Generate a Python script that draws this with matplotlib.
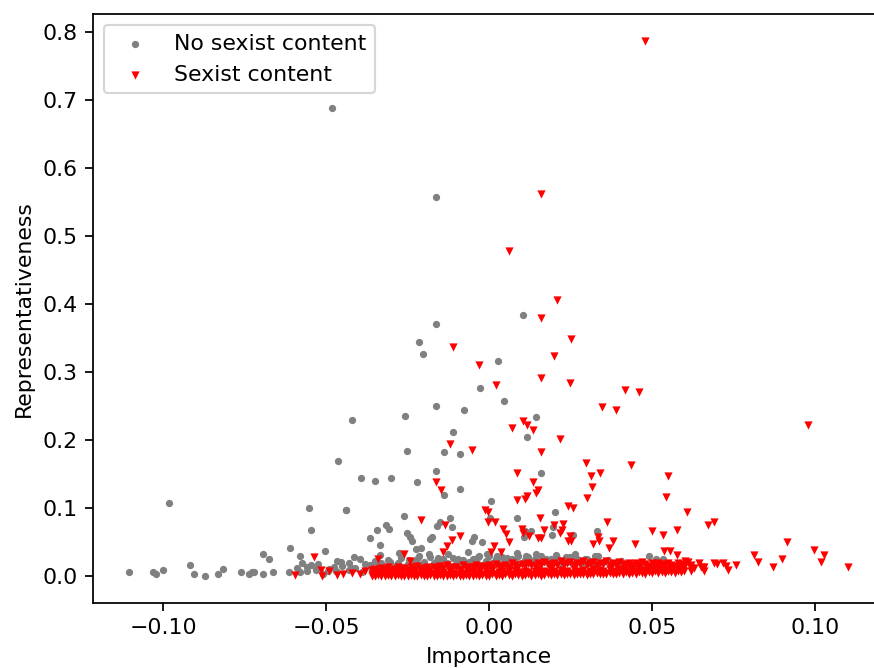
import matplotlib
matplotlib.use("Agg")
import matplotlib.pyplot as plt

# ---------------- data ----------------
# No sexist content (grey) - scattered points
grey_x = [-0.1105, -0.1032, -0.1022, -0.1002, -0.0983, -0.0919, -0.0904, -0.0873, -0.0831, -0.0816,
          -0.0762, -0.0738, -0.0728, -0.0721, -0.0693, -0.0693, -0.0674, -0.0663, -0.0615, -0.0610,
          -0.0580, -0.0552, -0.0547, -0.0503, -0.0464, -0.0439, -0.0421, -0.0482, -0.0164, -0.0454,
          -0.0431, -0.0477, 0.0105, -0.0164, -0.0214, -0.0203, 0.0028, -0.0027, 0.0046, -0.0164,
          -0.0076, -0.0257, -0.0110, -0.0139, -0.0090, -0.0252, -0.0164, -0.0139, -0.0394, -0.0350,
          -0.0301, -0.0222, -0.0090, 0.0144, 0.0116, 0.0007, -0.0438, -0.0261, -0.0317, -0.0307,
          -0.0345, -0.0365, -0.0336, -0.0251, -0.0243, -0.0235, -0.0159, -0.0150, -0.0120, -0.0113,
          -0.0174, -0.0181, -0.0047, -0.0053, -0.0021, 0.0002, 0.0087, 0.0110, -0.0210, -0.0223,
          -0.0414, 0.0160, 0.0204, 0.0196, 0.0129, 0.0107, 0.0194, 0.0259, 0.0332, 0.0491,
          0.0512, 0.0534, 0.0334, -0.0590, -0.0575, -0.0560, -0.0545, -0.0530]
grey_y = [0.006, 0.006, 0.004, 0.009, 0.107, 0.016, 0.004, 0.001, 0.004, 0.011,
          0.006, 0.004, 0.006, 0.006, 0.004, 0.032, 0.025, 0.006, 0.006, 0.042,
          0.030, 0.100, 0.068, 0.037, 0.170, 0.097, 0.229, 0.688, 0.557, 0.021,
          0.019, 0.014, 0.384, 0.370, 0.344, 0.327, 0.316, 0.276, 0.257, 0.250,
          0.245, 0.236, 0.212, 0.182, 0.180, 0.184, 0.154, 0.119, 0.144, 0.140,
          0.144, 0.138, 0.128, 0.234, 0.204, 0.110, 0.098, 0.089, 0.076, 0.069,
          0.068, 0.056, 0.046, 0.064, 0.058, 0.052, 0.074, 0.080, 0.086, 0.072,
          0.058, 0.054, 0.058, 0.052, 0.051, 0.086, 0.086, 0.066, 0.042, 0.040,
          0.028, 0.152, 0.094, 0.072, 0.066, 0.058, 0.060, 0.060, 0.066, 0.030,
          0.026, 0.025, 0.030, 0.012, 0.020, 0.008, 0.017, 0.010]

# No sexist content - dense band near zero
grey_band_x = [-0.058, -0.056, -0.053, -0.051, -0.049, -0.047, -0.045, -0.043, -0.041, -0.039,
               -0.038, -0.036, -0.035, -0.034, -0.033, -0.032, -0.031, -0.030, -0.029, -0.028,
               -0.027, -0.026, -0.025, -0.024, -0.023, -0.022, -0.021, -0.020, -0.019, -0.018,
               -0.017, -0.016, -0.015, -0.014, -0.013, -0.012, -0.011, -0.010, -0.009, -0.008,
               -0.007, -0.006, -0.005, -0.004, -0.003, -0.002, -0.001, 0.000, 0.001, 0.002,
               0.003, 0.004, 0.005, 0.006, 0.007, 0.008, 0.009, 0.010, 0.011, 0.012,
               0.013, 0.014, 0.015, 0.016, 0.017, 0.018, 0.019, 0.020, 0.021, 0.022,
               0.023, 0.024, 0.025, 0.026, 0.027, 0.028, 0.029, 0.030, 0.031, 0.032,
               0.033, 0.035, 0.037, 0.039, 0.041, 0.043, 0.045, 0.047, 0.050, 0.055]
grey_band_y = [0.006, 0.014, 0.009, 0.004, 0.011, 0.007, 0.015, 0.009, 0.012, 0.006,
               0.018, 0.011, 0.022, 0.014, 0.019, 0.010, 0.024, 0.016, 0.012, 0.020,
               0.027, 0.014, 0.018, 0.022, 0.011, 0.026, 0.017, 0.021, 0.013, 0.028,
               0.019, 0.023, 0.016, 0.025, 0.020, 0.014, 0.027, 0.018, 0.022, 0.024,
               0.016, 0.021, 0.026, 0.019, 0.029, 0.017, 0.023, 0.030, 0.020, 0.025,
               0.018, 0.028, 0.022, 0.017, 0.026, 0.021, 0.030, 0.019, 0.024, 0.028,
               0.020, 0.025, 0.018, 0.029, 0.023, 0.020, 0.026, 0.022, 0.027, 0.019,
               0.024, 0.021, 0.028, 0.018, 0.025, 0.022, 0.020, 0.026, 0.019, 0.023,
               0.017, 0.021, 0.016, 0.019, 0.014, 0.018, 0.015, 0.020, 0.012, 0.010]
grey_band2_x = [-0.0525, -0.0495, -0.0465, -0.0425, -0.0395, -0.0365, -0.0335, -0.0305, -0.0275, -0.0245,
                -0.0215, -0.0185, -0.0155, -0.0125, -0.0095, -0.0065, -0.0035, -0.0005, 0.0025, 0.0055,
                0.0085, 0.0115, 0.0145, 0.0175, 0.0205, 0.0235, 0.0265, 0.0295, 0.0325, 0.0365,
                0.0405, 0.0445]
grey_band2_y = [0.018, 0.008, 0.022, 0.012, 0.025, 0.016, 0.031, 0.021, 0.034, 0.024,
                0.029, 0.033, 0.027, 0.032, 0.026, 0.035, 0.028, 0.033, 0.030, 0.027,
                0.034, 0.029, 0.032, 0.026, 0.031, 0.028, 0.033, 0.025, 0.029, 0.024,
                0.022, 0.018]

# Sexist content (red) - scattered points
red_x = [0.0478, 0.0160, 0.0061, 0.0210, 0.0160, 0.0253, -0.0110, 0.0199, -0.0031, 0.0160,
         0.0248, 0.0022, 0.0416, 0.0460, 0.0346, 0.0390, 0.0105, 0.0116, 0.0979, 0.0072,
         0.0135, 0.0218, -0.0120, -0.0051, 0.0160, 0.0298, 0.0435, 0.0086, 0.0341, 0.0312,
         0.0549, -0.0164, 0.0135, 0.0317, -0.0148, 0.0150, 0.0145, 0.0116, 0.0543, 0.0302,
         0.0111, 0.0086, 0.0244, 0.0258, -0.0012, 0.0607, -0.0004, 0.0156, -0.0208, -0.0003,
         0.0019, 0.0362, 0.0690, 0.0671, 0.0228, 0.0199, -0.0134, 0.0043, 0.0101, 0.0170,
         0.0223, 0.0577, 0.0499, 0.0104, 0.0219, 0.0051, 0.0533, 0.0123, -0.0090, 0.0248,
         0.0335, 0.0160, 0.0150, -0.0113, 0.0241, 0.0253, 0.0338, 0.0380, 0.0915, 0.0061,
         0.0319, 0.0449, 0.0014, -0.0128, 0.0369, 0.0999, 0.0537, 0.0557, 0.0038, 0.0005,
         -0.0140, -0.0261, 0.0576, 0.0812, 0.1028, -0.0537, -0.0341, 0.0900, -0.0243, 0.0602,
         0.0612, 0.0827, 0.1018, 0.0690, 0.0719, 0.0700, 0.0759, 0.0727, 0.0661, 0.0650,
         0.0871, 0.1102, 0.0735, -0.0595, -0.0516, -0.0513, -0.0491, -0.0467, -0.0449,
         -0.0420, -0.0395, -0.0380, 0.0630, 0.0645, 0.0660]
red_y = [0.787, 0.562, 0.478, 0.406, 0.380, 0.349, 0.337, 0.323, 0.311, 0.291,
         0.284, 0.281, 0.274, 0.271, 0.249, 0.244, 0.228, 0.223, 0.222, 0.218,
         0.215, 0.201, 0.195, 0.185, 0.183, 0.166, 0.164, 0.152, 0.152, 0.148,
         0.147, 0.138, 0.138, 0.131, 0.127, 0.127, 0.122, 0.118, 0.117, 0.115,
         0.114, 0.112, 0.103, 0.100, 0.098, 0.094, 0.094, 0.086, 0.082, 0.080,
         0.080, 0.080, 0.080, 0.076, 0.077, 0.076, 0.075, 0.069, 0.069, 0.068,
         0.068, 0.068, 0.066, 0.064, 0.064, 0.062, 0.061, 0.059, 0.059, 0.059,
         0.058, 0.056, 0.056, 0.053, 0.052, 0.052, 0.052, 0.052, 0.051, 0.050,
         0.048, 0.047, 0.044, 0.044, 0.041, 0.038, 0.037, 0.037, 0.036, 0.035,
         0.035, 0.032, 0.031, 0.031, 0.031, 0.028, 0.026, 0.026, 0.023, 0.022,
         0.021, 0.021, 0.021, 0.019, 0.019, 0.018, 0.017, 0.015, 0.014, 0.014,
         0.014, 0.014, 0.009, 0.002, 0.009, 0.001, 0.007, 0.002, 0.004,
         0.005, 0.003, 0.008, 0.012, 0.020, 0.008]

# Sexist content - dense band near zero
red_band_x = [-0.036, -0.035, -0.034, -0.033, -0.032, -0.031, -0.030, -0.029, -0.028, -0.027,
              -0.026, -0.025, -0.024, -0.023, -0.022, -0.021, -0.020, -0.019, -0.018, -0.017,
              -0.016, -0.015, -0.014, -0.013, -0.012, -0.011, -0.010, -0.009, -0.008, -0.007,
              -0.006, -0.005, -0.004, -0.003, -0.002, -0.001, 0.000, 0.001, 0.002, 0.003,
              0.004, 0.005, 0.006, 0.007, 0.008, 0.009, 0.010, 0.011, 0.012, 0.013,
              0.014, 0.015, 0.016, 0.017, 0.018, 0.019, 0.020, 0.021, 0.022, 0.023,
              0.024, 0.025, 0.026, 0.027, 0.028, 0.029, 0.030, 0.031, 0.032, 0.033,
              0.034, 0.035, 0.036, 0.037, 0.038, 0.039, 0.040, 0.041, 0.042, 0.043,
              0.044, 0.045, 0.046, 0.047, 0.048, 0.049, 0.050, 0.051, 0.052, 0.053,
              0.054, 0.055, 0.056, 0.057, 0.058, 0.059, 0.060, 0.062]
red_band_y1 = [0.004, 0.002, 0.006, 0.003, 0.005, 0.002, 0.007, 0.004, 0.003, 0.006,
               0.002, 0.005, 0.004, 0.007, 0.003, 0.006, 0.004, 0.008, 0.003, 0.005,
               0.007, 0.004, 0.006, 0.003, 0.008, 0.005, 0.004, 0.007, 0.005, 0.003,
               0.006, 0.008, 0.004, 0.006, 0.003, 0.007, 0.005, 0.009, 0.004, 0.006,
               0.008, 0.005, 0.007, 0.004, 0.009, 0.006, 0.005, 0.008, 0.006, 0.004,
               0.007, 0.009, 0.005, 0.008, 0.006, 0.010, 0.007, 0.005, 0.009, 0.006,
               0.008, 0.005, 0.010, 0.007, 0.006, 0.009, 0.005, 0.008, 0.011, 0.006,
               0.009, 0.007, 0.005, 0.010, 0.008, 0.006, 0.011, 0.007, 0.009, 0.006,
               0.010, 0.008, 0.012, 0.007, 0.009, 0.011, 0.008, 0.010, 0.013, 0.009,
               0.011, 0.008, 0.012, 0.010, 0.014, 0.011, 0.013, 0.012]
red_band_y2 = [0.009, 0.011, 0.008, 0.012, 0.010, 0.013, 0.009, 0.011, 0.014, 0.010,
               0.012, 0.009, 0.013, 0.011, 0.015, 0.010, 0.012, 0.014, 0.011, 0.013,
               0.010, 0.015, 0.012, 0.016, 0.011, 0.014, 0.013, 0.011, 0.016, 0.012,
               0.014, 0.013, 0.017, 0.012, 0.015, 0.013, 0.016, 0.014, 0.018, 0.013,
               0.015, 0.017, 0.014, 0.019, 0.016, 0.014, 0.018, 0.015, 0.020, 0.017,
               0.015, 0.019, 0.016, 0.021, 0.018, 0.015, 0.020, 0.017, 0.022, 0.016,
               0.019, 0.021, 0.017, 0.020, 0.018, 0.022, 0.016, 0.019, 0.021, 0.017,
               0.020, 0.018, 0.022, 0.016, 0.019, 0.017, 0.021, 0.018, 0.016, 0.020,
               0.017, 0.019, 0.016, 0.021, 0.018, 0.015, 0.020, 0.017, 0.019, 0.016,
               0.018, 0.020, 0.017, 0.015, 0.019, 0.016, 0.018, 0.017]
red_band_y3 = [0.001, 0.000, 0.002, 0.001, 0.000, 0.002, 0.001, 0.000, 0.002, 0.001,
               0.000, 0.001, 0.002, 0.000, 0.001, 0.002, 0.000, 0.001, 0.002, 0.001,
               0.000, 0.002, 0.001, 0.000, 0.002, 0.001, 0.002, 0.000, 0.001, 0.002,
               0.001, 0.000, 0.002, 0.001, 0.002, 0.000, 0.001, 0.003, 0.001, 0.002,
               0.001, 0.003, 0.002, 0.001, 0.003, 0.002, 0.001, 0.002, 0.003, 0.001,
               0.002, 0.003, 0.001, 0.002, 0.003, 0.002, 0.004, 0.002, 0.003, 0.002,
               0.003, 0.004, 0.002, 0.003, 0.004, 0.003, 0.002, 0.004, 0.003, 0.005,
               0.003, 0.004, 0.003, 0.005, 0.004, 0.003, 0.005, 0.004, 0.006, 0.004,
               0.005, 0.004, 0.006, 0.005, 0.004, 0.006, 0.005, 0.007, 0.005, 0.006,
               0.005, 0.007, 0.006, 0.005, 0.007, 0.006, 0.008, 0.007]

labels = ["No sexist content", "Sexist content"]
colors = ["grey", "red"]

# ---------------- plot ----------------
DPI = 158
fig = plt.figure(figsize=(874 / DPI, 668 / DPI), dpi=DPI)
ax = fig.add_axes([93 / 874, 65 / 668, 791 / 874, 589 / 668])

ax.scatter(grey_x + grey_band_x + grey_band2_x, grey_y + grey_band_y + grey_band2_y,
           s=11, c=colors[0], marker="o", label=labels[0], linewidths=0)
ax.scatter(red_x + red_band_x + red_band_x + red_band_x,
           red_y + red_band_y1 + red_band_y2 + red_band_y3,
           s=14, c=colors[1], marker="v", label=labels[1], linewidths=0)

ax.set_xlabel("Importance")
ax.set_ylabel("Representativeness")
ax.legend(loc="upper left")

fig.savefig("out.png", dpi=DPI)
